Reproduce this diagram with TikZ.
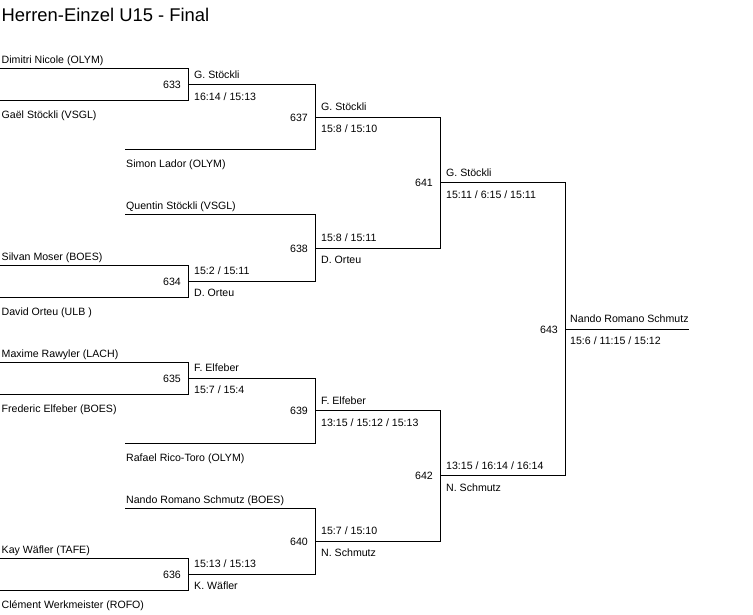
\documentclass[tikz,border=0pt]{standalone}
\usepackage{fontspec}
\setmainfont{Liberation Sans}
\begin{document}
\begin{tikzpicture}[x=1pt,y=-1pt,
  br/.style={draw=black,line width=1pt},
  lbl/.style={anchor=base west,inner sep=0pt,font=\fontsize{10.6}{12}\selectfont},
  num/.style={anchor=base east,inner sep=0pt,font=\fontsize{10.6}{12}\selectfont},
  ttl/.style={anchor=base west,inner sep=0pt,font=\fontsize{18.4}{20}\selectfont}]
\useasboundingbox[fill=white] (0,0) rectangle (753,615);
\node[ttl] (title) at (1.5,21.7) {Herren-Einzel U15 - Final};
% ---- leaf start coordinates
\coordinate (l1) at (0,69);
\coordinate (l2) at (0,101);
\coordinate (l3) at (125,150);
\coordinate (l4) at (125,215);
\coordinate (l5) at (0,265);
\coordinate (l6) at (0,297);
\coordinate (l7) at (0,362);
\coordinate (l8) at (0,394);
\coordinate (l9) at (125,443);
\coordinate (l10) at (125,508);
\coordinate (l11) at (0,558);
\coordinate (l12) at (0,590);
% ---- match corners (t = top, b = bottom, o = output)
\coordinate (m633t) at (188,69);  \coordinate (m633b) at (188,101); \coordinate (m633o) at (188,85);
\coordinate (m634t) at (188,265); \coordinate (m634b) at (188,297); \coordinate (m634o) at (188,281);
\coordinate (m635t) at (188,362); \coordinate (m635b) at (188,394); \coordinate (m635o) at (188,378);
\coordinate (m636t) at (188,558); \coordinate (m636b) at (188,590); \coordinate (m636o) at (188,574);
\coordinate (m637t) at (315,85);  \coordinate (m637b) at (315,150); \coordinate (m637o) at (315,117.5);
\coordinate (m638t) at (315,215); \coordinate (m638b) at (315,281); \coordinate (m638o) at (315,248);
\coordinate (m639t) at (315,378); \coordinate (m639b) at (315,443); \coordinate (m639o) at (315,410.5);
\coordinate (m640t) at (315,508); \coordinate (m640b) at (315,574); \coordinate (m640o) at (315,541);
\coordinate (m641t) at (440,117.5); \coordinate (m641b) at (440,248); \coordinate (m641o) at (440,182.75);
\coordinate (m642t) at (440,410.5); \coordinate (m642b) at (440,541); \coordinate (m642o) at (440,475.75);
\coordinate (m643t) at (565,182.75); \coordinate (m643b) at (565,475.75); \coordinate (m643o) at (565,329.25);
\coordinate (win) at (689,329.25);
% ---- brackets
\draw[br] (l1) -- (m633t) -- (m633b) -- (l2);
\draw[br] (l5) -- (m634t) -- (m634b) -- (l6);
\draw[br] (l7) -- (m635t) -- (m635b) -- (l8);
\draw[br] (l11) -- (m636t) -- (m636b) -- (l12);
\draw[br] (m633o) -- (m637t) -- (m637b) -- (l3);
\draw[br] (l4) -- (m638t) -- (m638b) -- (m634o);
\draw[br] (m635o) -- (m639t) -- (m639b) -- (l9);
\draw[br] (l10) -- (m640t) -- (m640b) -- (m636o);
\draw[br] (m637o) -- (m641t) -- (m641b) -- (m638o);
\draw[br] (m639o) -- (m642t) -- (m642b) -- (m640o);
\draw[br] (m641o) -- (m643t) -- (m643b) -- (m642o);
\draw[br] (m643o) -- (win);
% ---- player names
\node[lbl] (p1) at (1.5,64) {Dimitri Nicole (OLYM)};
\node[lbl] (p2) at (1.5,119) {Gaël Stöckli (VSGL)};
\node[lbl] (p3) at (126,168) {Simon Lador (OLYM)};
\node[lbl] (p4) at (126,210) {Quentin Stöckli (VSGL)};
\node[lbl] (p5) at (1.5,260) {Silvan Moser (BOES)};
\node[lbl] (p6) at (1.5,315) {David Orteu (ULB )};
\node[lbl] (p7) at (1.5,357) {Maxime Rawyler (LACH)};
\node[lbl] (p8) at (1.5,412) {Frederic Elfeber (BOES)};
\node[lbl] (p9) at (126,461) {Rafael Rico-Toro (OLYM)};
\node[lbl] (p10) at (126,503) {Nando Romano Schmutz (BOES)};
\node[lbl] (p11) at (1.5,553) {Kay Wäfler (TAFE)};
\node[lbl] (p12) at (1.5,608) {Clément Werkmeister (ROFO)};
% ---- match numbers
\node[num] (n633) at (181,89) {633};
\node[num] (n634) at (181,285) {634};
\node[num] (n635) at (181,382) {635};
\node[num] (n636) at (181,578) {636};
\node[num] (n637) at (308,121.5) {637};
\node[num] (n638) at (308,252) {638};
\node[num] (n639) at (308,414.5) {639};
\node[num] (n640) at (308,545) {640};
\node[num] (n641) at (433,186.75) {641};
\node[num] (n642) at (433,479.75) {642};
\node[num] (n643) at (558,333.25) {643};
% ---- winners and scores
\node[lbl] (w633) at (194,78.5) {G. Stöckli};
\node[lbl] (s633) at (194,100.5) {16:14 / 15:13};
\node[lbl] (s634) at (194,274.5) {15:2 / 15:11};
\node[lbl] (w634) at (194,296.5) {D. Orteu};
\node[lbl] (w635) at (194,371.5) {F. Elfeber};
\node[lbl] (s635) at (194,393.5) {15:7 / 15:4};
\node[lbl] (s636) at (194,567.5) {15:13 / 15:13};
\node[lbl] (w636) at (194,589.5) {K. Wäfler};
\node[lbl] (w637) at (321,111) {G. Stöckli};
\node[lbl] (s637) at (321,133) {15:8 / 15:10};
\node[lbl] (s638) at (321,241.5) {15:8 / 15:11};
\node[lbl] (w638) at (321,263.5) {D. Orteu};
\node[lbl] (w639) at (321,404) {F. Elfeber};
\node[lbl] (s639) at (321,426) {13:15 / 15:12 / 15:13};
\node[lbl] (s640) at (321,534.5) {15:7 / 15:10};
\node[lbl] (w640) at (321,556.5) {N. Schmutz};
\node[lbl] (w641) at (446,176.25) {G. Stöckli};
\node[lbl] (s641) at (446,198.25) {15:11 / 6:15 / 15:11};
\node[lbl] (s642) at (446,469.25) {13:15 / 16:14 / 16:14};
\node[lbl] (w642) at (446,491.25) {N. Schmutz};
\node[lbl] (w643) at (570,322.75) {Nando Romano Schmutz};
\node[lbl] (s643) at (570,344.75) {15:6 / 11:15 / 15:12};
\end{tikzpicture}
\end{document}
